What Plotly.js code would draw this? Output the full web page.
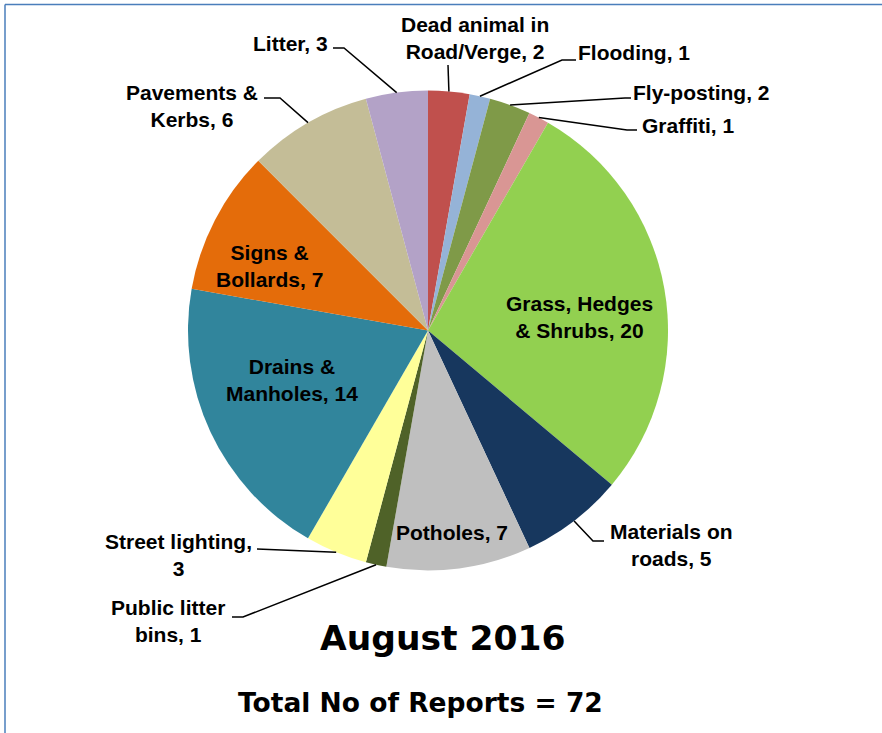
<!DOCTYPE html>
<html>
<head>
<meta charset="utf-8">
<script src="https://cdn.plot.ly/plotly-3.0.1.min.js"></script>
<style>html,body{margin:0;padding:0;background:#fff;}#chart{width:882px;height:733px;}</style>
</head>
<body>
<div id="chart"></div>
<script>
// ---- data ----
const categories = ['Dead animal in Road/Verge', 'Flooding', 'Fly-posting', 'Graffiti',
  'Grass, Hedges & Shrubs', 'Materials on roads', 'Potholes', 'Public litter bins',
  'Street lighting', 'Drains & Manholes', 'Signs & Bollards', 'Pavements & Kerbs', 'Litter'];
const counts = [2, 1, 2, 1, 20, 5, 7, 1, 3, 14, 7, 6, 3];
const sliceColors = ['#C0504D', '#95B3D7', '#7F9A48', '#D99694', '#92D050', '#17375E',
  '#BFBFBF', '#4F6228', '#FFFF99', '#31859C', '#E46C0A', '#C4BD97', '#B3A2C7'];
const lineBreakAfter = ['Dead animal in', null, null, null, 'Grass, Hedges', 'Materials on',
  null, 'Public litter', 'Street lighting,', 'Drains &', 'Signs &', 'Pavements &', null];
const chartTitle = 'August 2016';
const chartSubtitle = 'Total No of Reports = 72';

// ---- layout config (pixels) ----
const W = 882, H = 733;
const CX = 428, CY = 330.5, R = 240;
const labelLayout = [
  {t: [475, 38],  path: [[448, 65]]},
  {t: [634, 53],  path: [[562, 60], [576, 60]]},
  {t: [701, 92],  path: [[625, 98], [631, 98]]},
  {t: [688, 125], path: [[627, 130], [637, 130]]},
  {t: [579, 317]},
  {t: [671, 545], path: [[593, 541], [604, 541]]},
  {t: [452, 532]},
  {t: [168, 621], path: [[243, 617], [232, 617]]},
  {t: [178, 555], path: [[257, 549]]},
  {t: [292, 380]},
  {t: [269, 266]},
  {t: [192, 106], path: [[280, 98], [264, 98]]},
  {t: [290, 43],  path: [[344, 48], [333, 48]]}
];

const px = x => x / W;
const py = y => 1 - y / H;

const total = counts.reduce((a, b) => a + b, 0);
const annotations = [];
const shapes = [];
let cum = 0;
counts.forEach((v, i) => {
  const mid = (cum + v / 2) / total * 2 * Math.PI;
  cum += v;
  const ex = CX + R * Math.sin(mid);
  const ey = CY - R * Math.cos(mid);
  let txt = categories[i] + ', ' + v;
  if (lineBreakAfter[i]) txt = txt.replace(lineBreakAfter[i] + ' ', lineBreakAfter[i] + '<br>');
  const L = labelLayout[i];
  annotations.push({
    xref: 'paper', yref: 'paper', x: px(L.t[0]), y: py(L.t[1]),
    xanchor: 'center', yanchor: 'middle', showarrow: false,
    text: '<b>' + txt + '</b>', align: 'center',
    font: {family: 'Liberation Sans, Arial, sans-serif', size: 21, color: '#000'}
  });
  if (L.path) {
    let d = 'M' + px(ex) + ',' + py(ey);
    L.path.forEach(p => { d += ' L' + px(p[0]) + ',' + py(p[1]); });
    shapes.push({type: 'path', xref: 'paper', yref: 'paper', path: d,
      line: {color: '#000', width: 1.5}});
  }
});

annotations.push({
  xref: 'paper', yref: 'paper', x: px(443), y: py(638), xanchor: 'center', yanchor: 'middle',
  showarrow: false, text: '<b>' + chartTitle + '</b>',
  font: {family: 'DejaVu Sans, sans-serif', size: 34.5, color: '#000'}
});
annotations.push({
  xref: 'paper', yref: 'paper', x: px(420), y: py(702), xanchor: 'center', yanchor: 'middle',
  showarrow: false, text: '<b>' + chartSubtitle + '</b>',
  font: {family: 'DejaVu Sans, sans-serif', size: 26.5, color: '#000'}
});

// frame lines (top and left)
shapes.push({type: 'line', xref: 'paper', yref: 'paper', x0: px(5), y0: py(4.5), x1: 1, y1: py(4.5),
  line: {color: '#4A7EBB', width: 1.5}});
shapes.push({type: 'line', xref: 'paper', yref: 'paper', x0: px(5), y0: py(4.5), x1: px(5), y1: 0,
  line: {color: '#4A7EBB', width: 1.5}});

const trace = {
  type: 'pie',
  labels: categories,
  values: counts,
  marker: {colors: sliceColors, line: {width: 0}},
  sort: false,
  direction: 'clockwise',
  rotation: 0,
  textinfo: 'none',
  hoverinfo: 'label+value',
  showlegend: false,
  domain: {x: [px(CX - R), px(CX + R)], y: [py(CY + R), py(CY - R)]}
};

const layout = {
  width: W, height: H,
  margin: {l: 0, r: 0, t: 0, b: 0},
  paper_bgcolor: '#fff',
  showlegend: false,
  annotations: annotations,
  shapes: shapes
};

Plotly.newPlot('chart', [trace], layout, {displayModeBar: false, staticPlot: true});
</script>
</body>
</html>
